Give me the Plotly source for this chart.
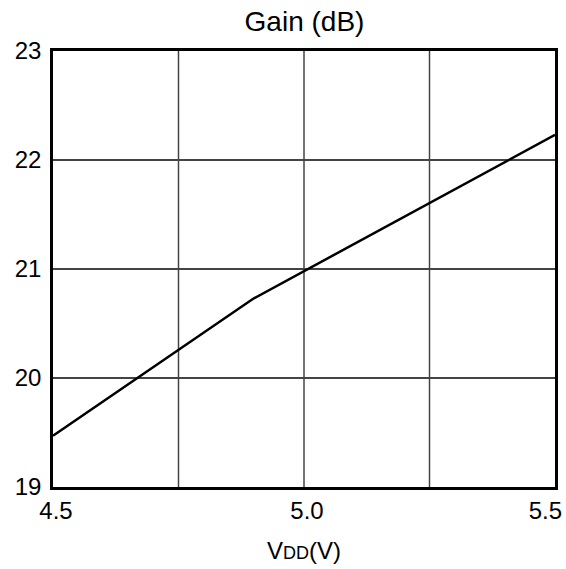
import plotly.graph_objects as go

vdd = [4.5, 4.898, 5.5]
gain = [19.47, 20.725, 22.23]
x_ticks = [4.5, 5.0, 5.5]
x_tick_labels = ["4.5", "5.0", "5.5"]
x_grid = [4.75, 5.0, 5.25]
y_ticks = [19, 20, 21, 22, 23]

fig = go.Figure()
fig.add_trace(go.Scatter(x=vdd, y=gain, mode="lines",
                         line=dict(color="black", width=2.5), showlegend=False))
# invisible companion trace so the end-label axis is rendered
fig.add_trace(go.Scatter(x=vdd, y=gain, mode="lines", xaxis="x2",
                         line=dict(color="rgba(0,0,0,0)", width=0),
                         showlegend=False, hoverinfo="skip"))

for gx in x_grid:
    fig.add_shape(type="line", x0=gx, x1=gx, y0=19, y1=23, xref="x", yref="y",
                  line=dict(color="#444", width=1.5), layer="below")

font = "Liberation Sans, Arial, sans-serif"
fig.update_layout(
    width=566, height=569,
    margin=dict(l=53, r=11, t=51, b=82, autoexpand=False),
    paper_bgcolor="white", plot_bgcolor="white",
    font=dict(family=font, color="black", size=24),
    title=dict(text="Gain (dB)", x=0.538, xanchor="center", y=0.962, yanchor="middle",
               font=dict(size=28, family=font, color="black")),
    xaxis=dict(range=[x_ticks[0], x_ticks[-1]], tickvals=x_ticks[:-1], ticktext=x_tick_labels[:-1],
               showgrid=False, zeroline=False, showline=True, mirror=True,
               linecolor="black", linewidth=2.5, ticks="", tickfont=dict(size=24),
               ticklabelshift=3, automargin=False,
               title=dict(text="V<span style='font-size:18px'>DD</span>(V)",
                          font=dict(size=24), standoff=20)),
    xaxis2=dict(range=[x_ticks[0], x_ticks[-1]], tickvals=x_ticks[-1:], ticktext=x_tick_labels[-1:],
                overlaying="x", side="bottom", showgrid=False, zeroline=False,
                showline=False, ticks="", tickfont=dict(size=24),
                ticklabelposition="outside left", ticklabelshift=7,
                ticklabelstandoff=7, automargin=False),
    yaxis=dict(range=[19, 23], tickvals=y_ticks, showgrid=True, gridcolor="#444",
               gridwidth=1.5, zeroline=False, showline=True, mirror=True,
               linecolor="black", linewidth=2.5, ticks="", tickfont=dict(size=24),
               ticklabelstandoff=4, automargin=False),
)

fig.write_html("out.html", config={"displayModeBar": False},
               post_script="document.body.style.margin='0';document.body.style.overflow='hidden';")
